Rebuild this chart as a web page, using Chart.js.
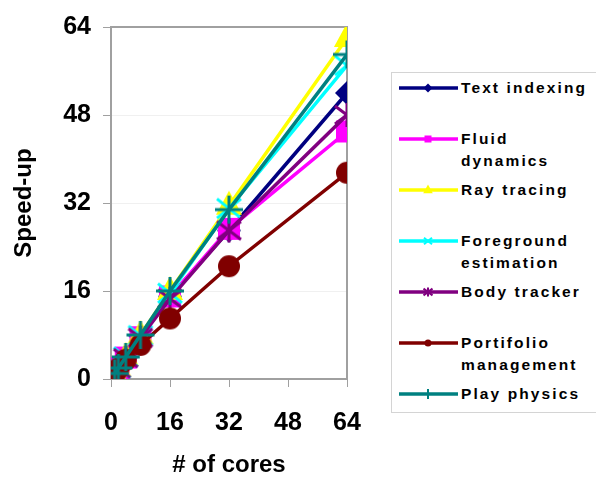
<!DOCTYPE html>
<html>
<head>
<meta charset="utf-8">
<script src="https://cdn.jsdelivr.net/npm/chart.js@4.4.1/dist/chart.umd.min.js"></script>
<style>
  html, body { margin: 0; padding: 0; background: #fff; }
  #wrap { position: relative; width: 596px; height: 484px; overflow: hidden; }
  #legend { position: absolute; left: 391px; top: 72px; width: 230px; height: 341px;
            border: 1px solid #d4d4d4; box-sizing: border-box; background: #fff; }
  .item { position: absolute; left: 0; width: 230px; height: 50px; }
  .item canvas { position: absolute; left: 4px; top: 0; }
  .item span { position: absolute; left: 69px; top: 0; font: bold 15.5px "Liberation Sans", Arial, sans-serif;
               letter-spacing: 2.1px; line-height: 22px; color: #000; white-space: pre; }
</style>
</head>
<body>
<div id="wrap">
  <canvas id="chart" width="596" height="484"></canvas>
  <div id="legend"></div>
</div>
<script>
// Number of cores (x) and measured speed-up of each workload (y)
const cores = [1, 2, 4, 8, 16, 32, 64];
const textIndexing   = [1, 2, 3.9, 7.8, 15.0, 27.0, 52.0];
const fluidDynamics  = [1, 2, 3.9, 7.6, 15.0, 27.3, 45.0];
const rayTracing     = [1, 2, 4.0, 8.0, 16.0, 31.5, 62.0];
const foreground     = [1, 2, 4.0, 7.9, 15.6, 31.0, 57.0];
const bodyTracker    = [1, 1.9, 3.8, 7.5, 14.6, 27.0, 48.0];
const portfolio      = [1, 1.9, 3.5, 6.2, 11.0, 20.5, 37.5];
const playPhysics    = [1, 2, 4.0, 8.0, 16.0, 30.8, 59.0];

const seriesNames = ['Text indexing', 'Fluid\ndynamics', 'Ray tracing', 'Foreground\nestimation',
                     'Body tracker', 'Portifolio\nmanagement', 'Play physics'];
const tickValues = [0, 16, 32, 48, 64];

// Marker styling per series
const styles = [
  { color: '#000080', marker: 'diamond',  r: 12 },
  { color: '#FF00FF', marker: 'square',   r: 11 },
  { color: '#FFFF00', marker: 'triangle', r: 15 },
  { color: '#00FFFF', marker: 'x',        r: 12 },
  { color: '#800080', marker: 'asterisk', r: 12 },
  { color: '#800000', marker: 'circle',   r: 11 },
  { color: '#008080', marker: 'plus',     r: 14 }
];
const values = [textIndexing, fluidDynamics, rayTracing, foreground, bodyTracker, portfolio, playPhysics];

// Draw a marker shape centered at (x, y)
function drawMarker(ctx, marker, x, y, r, color, lw) {
  ctx.save();
  ctx.fillStyle = color;
  ctx.strokeStyle = color;
  ctx.lineWidth = lw;
  ctx.beginPath();
  switch (marker) {
    case 'diamond':
      ctx.moveTo(x, y - r); ctx.lineTo(x + r, y); ctx.lineTo(x, y + r); ctx.lineTo(x - r, y);
      ctx.closePath(); ctx.fill(); break;
    case 'square':
      ctx.rect(x - r, y - r, 2 * r, 2 * r); ctx.fill(); break;
    case 'triangle':
      ctx.moveTo(x, y - r); ctx.lineTo(x + r * 0.87, y + r * 0.6); ctx.lineTo(x - r * 0.87, y + r * 0.6);
      ctx.closePath(); ctx.fill(); break;
    case 'circle':
      ctx.arc(x, y, r, 0, Math.PI * 2); ctx.fill(); break;
    case 'x':
      ctx.moveTo(x - r, y - r * 0.8); ctx.lineTo(x + r, y + r * 0.8);
      ctx.moveTo(x + r, y - r * 0.8); ctx.lineTo(x - r, y + r * 0.8); ctx.stroke(); break;
    case 'asterisk':
      ctx.moveTo(x - r, y - r * 0.75); ctx.lineTo(x + r, y + r * 0.75);
      ctx.moveTo(x + r, y - r * 0.75); ctx.lineTo(x - r, y + r * 0.75);
      ctx.moveTo(x, y - r); ctx.lineTo(x, y + r); ctx.stroke(); break;
    case 'plus':
      ctx.moveTo(x - r, y); ctx.lineTo(x + r, y);
      ctx.moveTo(x, y - r); ctx.lineTo(x, y + r); ctx.stroke(); break;
  }
  ctx.restore();
}

// Pre-rendered point images for the chart
function markerImage(s) {
  const size = Math.ceil(s.r * 2 + 6);
  const c = document.createElement('canvas');
  c.width = size; c.height = size;
  drawMarker(c.getContext('2d'), s.marker, size / 2, size / 2, s.r, s.color, 3);
  return c;
}

const datasets = values.map((vals, i) => ({
  label: seriesNames[i].replace('\n', ' '),
  data: cores.map((c, j) => ({ x: c, y: vals[j] })),
  borderColor: styles[i].color,
  backgroundColor: styles[i].color,
  borderWidth: 3.5,
  pointStyle: markerImage(styles[i]),
  order: values.length - 1 - i,
  tension: 0
}));

// Gray frame on the top and right of the plot area
const framePlugin = {
  id: 'frame',
  beforeDatasetsDraw(chart) {
    const { ctx, chartArea: a } = chart;
    ctx.save();
    ctx.strokeStyle = '#a0a0a0';
    ctx.lineWidth = 2;
    ctx.beginPath();
    ctx.moveTo(a.left, a.top); ctx.lineTo(a.right, a.top); ctx.lineTo(a.right, a.bottom);
    ctx.stroke();
    ctx.restore();
  }
};

const tickFont = { family: '"Liberation Sans", Arial, sans-serif', size: 25, weight: 'bold' };
const titleFont = { family: '"Liberation Sans", Arial, sans-serif', size: 24, weight: 'bold' };

new Chart(document.getElementById('chart'), {
  type: 'line',
  data: { datasets },
  plugins: [framePlugin],
  options: {
    responsive: false,
    animation: false,
    layout: { padding: { left: 10, top: 25, right: 249, bottom: 4 } },
    plugins: { legend: { display: false }, tooltip: { enabled: false } },
    elements: { point: { radius: 10, hoverRadius: 10 } },
    scales: {
      x: {
        type: 'linear', min: 0, max: 64,
        afterBuildTicks: s => { s.ticks = tickValues.map(v => ({ value: v })); },
        afterFit: s => { s.height = 484 - 379 - 4; },
        grid: { drawOnChartArea: false, tickLength: 8, tickColor: '#a0a0a0', lineWidth: 1 },
        border: { color: '#a0a0a0', width: 2 },
        ticks: { font: tickFont, color: '#000', padding: 21, maxRotation: 0 },
        title: { display: true, text: '# of cores', font: titleFont, color: '#000', padding: { top: 8, bottom: 0 } }
      },
      y: {
        type: 'linear', min: 0, max: 64,
        afterBuildTicks: s => { s.ticks = tickValues.map(v => ({ value: v })); },
        afterFit: s => { s.width = 111 - 10; },
        grid: { color: '#f0f0f0', tickLength: 8, tickColor: '#a0a0a0', lineWidth: 1 },
        border: { color: '#a0a0a0', width: 2 },
        ticks: { font: tickFont, color: '#000', padding: 12 },
        title: { display: true, text: 'Speed-up', font: titleFont, color: '#000', padding: { top: 0, bottom: 0 } }
      }
    }
  }
});

// Legend beside the chart
const legend = document.getElementById('legend');
seriesNames.forEach((name, i) => {
  const cy = 15 + 51 * i;
  const item = document.createElement('div');
  item.className = 'item';
  item.style.top = (cy - 11) + 'px';
  const c = document.createElement('canvas');
  c.width = 64; c.height = 22;
  const ctx = c.getContext('2d');
  ctx.strokeStyle = styles[i].color;
  ctx.lineWidth = 3.5;
  ctx.beginPath(); ctx.moveTo(3, 11); ctx.lineTo(62, 11); ctx.stroke();
  const small = { diamond: 4.5, square: 3.5, triangle: 5.5, x: 4, asterisk: 4.5, circle: 3.5, plus: 5 };
  drawMarker(ctx, styles[i].marker, 32, 11, small[styles[i].marker], styles[i].color, 2);
  item.appendChild(c);
  const span = document.createElement('span');
  span.textContent = name;
  item.appendChild(span);
  legend.appendChild(item);
});
</script>
</body>
</html>
